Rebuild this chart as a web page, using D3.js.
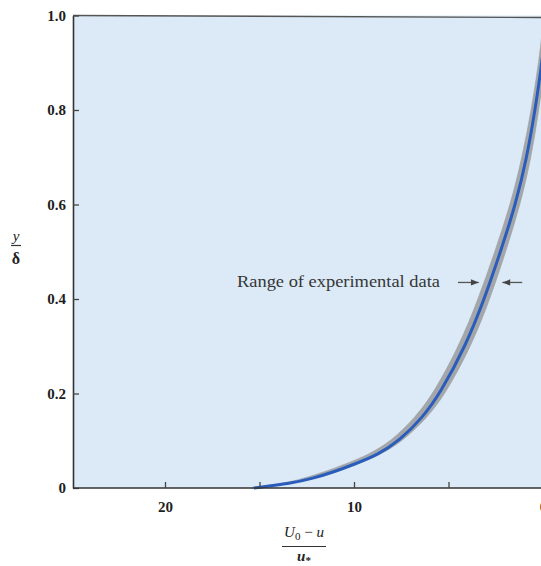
<!DOCTYPE html>
<html>
<head>
<meta charset="utf-8">
<script src="https://cdn.jsdelivr.net/npm/d3@7"></script>
<style>
  body { margin: 0; background: #fff; }
  text { font-family: "Liberation Serif", "DejaVu Serif", serif; }
</style>
</head>
<body>
<div id="viscontainer"></div>
<script>
// y/delta levels and the (U0 - u)/u* values
const yLevels = [0, 0.01, 0.02, 0.035, 0.05, 0.07, 0.1, 0.15, 0.2, 0.3, 0.4, 0.5, 0.6, 0.7, 0.8, 0.9, 1.0];
const defectMean = [15.3, 13.3, 12.2, 11.0, 10.0, 8.75, 7.6, 6.35, 5.45, 4.1, 3.1, 2.25, 1.45, 0.85, 0.42, 0.05, -0.2];
// range of experimental data (band edges)
const defectHigh = [15.4, 13.7, 12.7, 11.5, 10.5, 9.25, 8.0, 6.75, 5.8, 4.45, 3.42, 2.55, 1.72, 1.1, 0.62, 0.22, -0.05];
const defectLow = [15.2, 13.2, 12.1, 10.9, 9.9, 8.6, 7.4, 6.1, 5.15, 3.8, 2.8, 1.97, 1.2, 0.62, 0.22, -0.12, -0.35];

const yTicks = [0, 0.2, 0.4, 0.6, 0.8, 1.0];
const yTickLabels = ["0", "0.2", "0.4", "0.6", "0.8", "1.0"];
const xTicks = [20, 15, 10, 5, 0];
const xTickLabels = ["20", "", "10", "", "0"];

// annotation: arrows pointing at band edges
const noteText = "Range of experimental data";
const noteY = 0.435;
const arrowLeft = [4.5, 3.4];
const arrowRight = [1.1, 2.15];

function makeVis() {
  const width = 541;
  const height = 566;
  const plotLeft = 73;
  const plotRight = 543;
  const plotTop = 15.5;
  const plotBottom = 488;

  const svg = d3.create("svg").attr("width", width).attr("height", height);
  document.getElementById("viscontainer").append(svg.node());

  const xScale = d3.scaleLinear().domain([(plotRight - plotLeft) / 18.9, 0]).range([plotLeft, plotRight]);
  const yScale = d3.scaleLinear().domain([0, 1]).range([plotBottom, plotTop]);

  // background panel
  svg.append("rect")
    .attr("x", plotLeft).attr("y", plotTop)
    .attr("width", width - plotLeft).attr("height", plotBottom - plotTop)
    .attr("fill", "#dbeaf6");

  svg.append("clipPath").attr("id", "plot-clip")
    .append("rect")
    .attr("x", plotLeft).attr("y", plotTop)
    .attr("width", width - plotLeft).attr("height", plotBottom - plotTop + 2);

  const rows = yLevels.map((y, i) => ({ y, mean: defectMean[i], hi: defectHigh[i], lo: defectLow[i] }));

  const band = d3.area()
    .curve(d3.curveBasis)
    .y((d) => yScale(d.y))
    .x0((d) => xScale(d.hi))
    .x1((d) => xScale(d.lo));

  const plot = svg.append("g").attr("clip-path", "url(#plot-clip)");

  plot.append("path")
    .datum(rows)
    .attr("d", band)
    .attr("fill", "#a4a7aa")
    .attr("stroke", "#999c9f")
    .attr("stroke-width", 0.6);

  const line = d3.line()
    .curve(d3.curveBasis)
    .x((d) => xScale(d.mean))
    .y((d) => yScale(d.y));

  plot.append("path")
    .datum(rows)
    .attr("d", line)
    .attr("fill", "none")
    .attr("stroke", "#2a5cbc")
    .attr("stroke-width", 3);

  svg.append("line")
    .attr("x1", plotLeft).attr("x2", width)
    .attr("y1", plotTop).attr("y2", plotTop + 2)
    .attr("stroke", "#555").attr("stroke-width", 1.4);

  // axes
  const yAxis = svg.append("g")
    .attr("transform", `translate(${plotLeft}, 0)`)
    .call(d3.axisLeft(yScale).tickValues(yTicks)
      .tickFormat((d, i) => yTickLabels[i])
      .tickSizeInner(-6).tickSizeOuter(0).tickPadding(7));

  const xAxis = svg.append("g")
    .attr("transform", `translate(0, ${plotBottom})`)
    .call(d3.axisBottom(xScale).tickValues(xTicks)
      .tickFormat((d, i) => xTickLabels[i])
      .tickSizeInner(-6).tickSizeOuter(0).tickPadding(13));

  [xAxis, yAxis].forEach((g) => {
    g.select(".domain").attr("stroke", "#333").attr("stroke-width", 1.6);
    g.selectAll(".tick line").attr("stroke", "#444").attr("stroke-width", 1.3);
    g.selectAll(".tick text")
      .attr("fill", "#1e1e1e")
      .attr("font-size", 15)
      .attr("font-weight", "bold")
      .attr("font-family", "Liberation Serif, serif");
  });
  xAxis.select(".domain").attr("d", `M${plotLeft},0H${width}`);

  // annotation
  svg.append("text")
    .attr("x", 237).attr("y", yScale(noteY) + 5)
    .attr("font-size", 17)
    .attr("textLength", 203)
    .attr("lengthAdjust", "spacingAndGlyphs")
    .attr("fill", "#363636")
    .text(noteText);

  const defs = svg.append("defs");
  defs.append("marker")
    .attr("id", "head")
    .attr("viewBox", "0 0 10 10")
    .attr("refX", 10).attr("refY", 5)
    .attr("markerWidth", 7).attr("markerHeight", 6)
    .attr("orient", "auto")
    .append("path").attr("d", "M0,1L10,5L0,9Z").attr("fill", "#444");

  [arrowLeft, arrowRight].forEach((a) => {
    svg.append("line")
      .attr("x1", xScale(a[0])).attr("x2", xScale(a[1]))
      .attr("y1", yScale(noteY)).attr("y2", yScale(noteY))
      .attr("stroke", "#555").attr("stroke-width", 1.3)
      .attr("marker-end", "url(#head)");
  });

  // y label: y / delta
  const yl = svg.append("g").attr("transform", "translate(16, 0)");
  yl.append("text").attr("x", 0).attr("y", 241).attr("text-anchor", "middle")
    .attr("font-size", 15).attr("font-style", "italic").attr("fill", "#222").text("y");
  yl.append("line").attr("x1", -5).attr("x2", 5).attr("y1", 245.5).attr("y2", 245.5)
    .attr("stroke", "#333").attr("stroke-width", 1.2);
  yl.append("text").attr("x", 0).attr("y", 264).attr("text-anchor", "middle")
    .attr("font-size", 16).attr("font-weight", "bold").attr("fill", "#222").text("δ");

  // x label: (U0 - u) / u*
  const xl = svg.append("g").attr("transform", "translate(304, 0)");
  const top = xl.append("text").attr("x", 0).attr("y", 537).attr("text-anchor", "middle")
    .attr("font-size", 15).attr("fill", "#222");
  top.append("tspan").attr("font-style", "italic").text("U");
  top.append("tspan").attr("font-size", 11).attr("dy", 3).text("0");
  top.append("tspan").attr("dy", -3).text(" − ");
  top.append("tspan").attr("font-style", "italic").text("u");
  xl.append("line").attr("x1", -22).attr("x2", 22).attr("y1", 546.5).attr("y2", 546.5)
    .attr("stroke", "#333").attr("stroke-width", 1.2);
  const bot = xl.append("text").attr("x", 0).attr("y", 561).attr("text-anchor", "middle")
    .attr("font-size", 15).attr("fill", "#222");
  bot.append("tspan").attr("font-style", "italic").attr("font-weight", "bold").text("u");
  bot.append("tspan").attr("font-size", 11).attr("dy", 3).attr("font-weight", "bold").text("*");
}

makeVis();
</script>
</body>
</html>
